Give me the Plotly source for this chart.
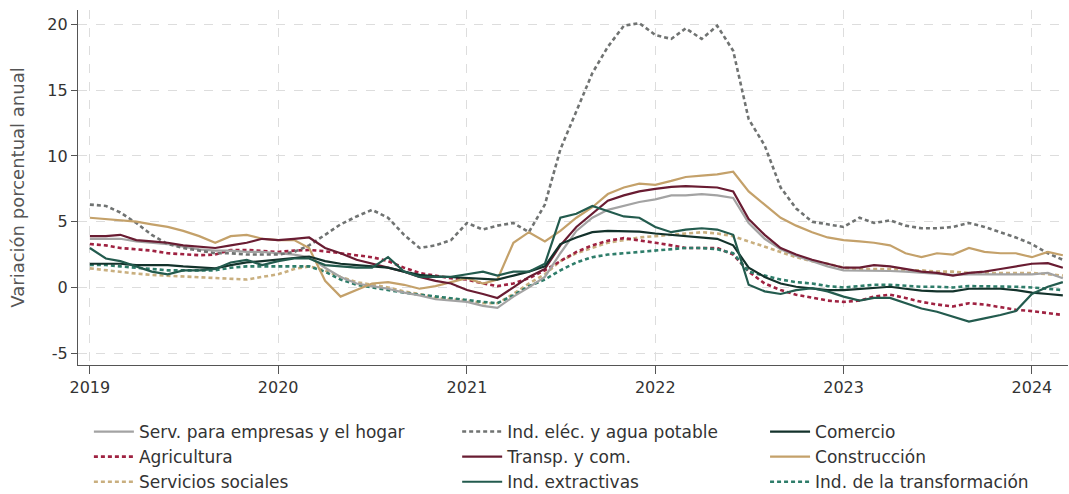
import pandas as pd
import plotly.graph_objects as go

dates = pd.date_range("2019-01-01", periods=63, freq="MS")

serv_empresas = [3.7, 3.7, 3.7, 3.5, 3.4, 3.3, 3.1, 2.9, 2.8, 2.8, 2.7, 2.7,
                 2.6, 2.5, 2.3, 1.5, 0.8, 0.3, 0.1, -0.1, -0.4, -0.6, -0.9, -1.0,
                 -1.1, -1.4, -1.55, -0.7, 0.0, 0.8, 2.6, 4.3, 5.3, 5.9, 6.2, 6.5,
                 6.7, 7.0, 7.0, 7.1, 7.0, 6.8, 4.9, 3.7, 2.9, 2.4, 2.0, 1.6,
                 1.3, 1.3, 1.3, 1.25, 1.2, 1.1, 1.0, 0.95, 1.0, 1.0, 1.0, 1.0,
                 1.0, 1.1, 0.7]
ind_elec = [6.3, 6.2, 5.7, 4.9, 4.0, 3.3, 3.0, 2.8, 2.6, 2.6, 2.5, 2.5,
            2.5, 2.7, 3.2, 4.0, 4.8, 5.4, 5.9, 5.3, 4.0, 3.0, 3.2, 3.6,
            4.9, 4.4, 4.7, 4.9, 4.2, 6.3, 10.5, 13.4, 16.3, 18.3, 19.9, 20.1,
            19.2, 18.9, 19.7, 18.9, 19.9, 18.0, 12.8, 10.8, 7.6, 6.0, 5.0, 4.8,
            4.6, 5.3, 4.9, 5.1, 4.7, 4.5, 4.5, 4.6, 4.9, 4.6, 4.2, 3.8,
            3.3, 2.6, 2.1]
comercio = [1.8, 1.8, 1.8, 1.7, 1.7, 1.7, 1.6, 1.5, 1.45, 1.7, 1.9, 2.0,
            2.1, 2.25, 2.35, 2.0, 1.8, 1.7, 1.6, 1.5, 1.2, 0.95, 0.85, 0.8,
            0.75, 0.65, 0.6, 0.9, 1.2, 1.6, 3.3, 3.8, 4.2, 4.3, 4.3, 4.25,
            4.1, 4.0, 3.95, 3.85, 3.7, 3.2, 1.5, 0.8, 0.3, 0.05, -0.1, -0.2,
            -0.2, -0.1, 0.0, 0.05, -0.1, -0.25, -0.3, -0.3, -0.1, -0.1, -0.1, -0.2,
            -0.4, -0.5, -0.6]
agricultura = [3.3, 3.2, 3.0, 2.9, 2.8, 2.6, 2.5, 2.45, 2.5, 2.85, 2.85, 2.8,
               2.7, 2.8, 2.85, 2.75, 2.6, 2.5, 2.3, 2.0, 1.5, 1.1, 0.9, 0.7,
               0.6, 0.3, 0.1, 0.3, 0.7, 1.3, 2.0, 2.7, 3.2, 3.55, 3.75, 3.6,
               3.4, 3.2, 3.0, 3.0, 3.0, 2.5, 1.2, 0.3, -0.2, -0.55, -0.8, -1.0,
               -1.1, -1.0, -0.7, -0.55, -0.8, -1.1, -1.3, -1.45, -1.2, -1.3, -1.5, -1.7,
               -1.8, -1.95, -2.1]
transp = [3.9, 3.9, 4.0, 3.6, 3.5, 3.4, 3.2, 3.1, 3.0, 3.2, 3.4, 3.7,
          3.6, 3.7, 3.8, 3.0, 2.6, 2.1, 1.8, 1.5, 1.2, 0.8, 0.5, 0.3,
          -0.2, -0.5, -0.8, 0.0, 0.8, 1.4, 3.2, 4.6, 5.6, 6.6, 7.0, 7.3,
          7.5, 7.65, 7.7, 7.65, 7.6, 7.3, 5.2, 4.0, 3.0, 2.5, 2.1, 1.8,
          1.5, 1.5, 1.7, 1.6, 1.4, 1.2, 1.1, 0.9, 1.1, 1.2, 1.4, 1.6,
          1.8, 1.85, 1.5]
construccion = [5.3, 5.2, 5.1, 5.0, 4.8, 4.6, 4.3, 3.9, 3.4, 3.9, 4.0, 3.7,
                3.6, 3.6, 3.0, 0.5, -0.7, -0.2, 0.3, 0.4, 0.2, -0.1, 0.1, 0.4,
                0.7, 0.3, 0.6, 3.4, 4.2, 3.5, 4.3, 5.3, 6.1, 7.1, 7.6, 7.9,
                7.8, 8.1, 8.4, 8.5, 8.6, 8.8, 7.3, 6.3, 5.3, 4.7, 4.2, 3.8,
                3.6, 3.5, 3.4, 3.2, 2.6, 2.3, 2.6, 2.5, 3.0, 2.7, 2.6, 2.6,
                2.3, 2.7, 2.45]
serv_sociales = [1.45, 1.3, 1.2, 1.05, 0.95, 0.9, 0.8, 0.75, 0.7, 0.65, 0.6, 0.8,
                 1.0, 1.4, 1.6, 1.3, 0.8, 0.4, 0.2, 0.0, -0.3, -0.5, -0.8, -0.9,
                 -1.0, -1.2, -1.2, -0.5, 0.3, 1.0, 2.0, 2.6, 3.0, 3.4, 3.6, 3.8,
                 3.9, 4.0, 4.1, 4.2, 4.1, 3.9, 3.5, 3.1, 2.7, 2.3, 2.0, 1.8,
                 1.5, 1.4, 1.4, 1.4, 1.3, 1.3, 1.2, 1.2, 1.1, 1.1, 1.1, 1.1,
                 1.1, 1.0, 0.9]
extractivas = [3.0, 2.2, 2.0, 1.6, 1.2, 1.0, 1.3, 1.3, 1.4, 1.9, 2.1, 1.7,
               2.0, 2.2, 2.2, 1.7, 1.6, 1.5, 1.5, 2.3, 1.2, 0.8, 0.8, 0.8,
               1.0, 1.2, 0.9, 1.2, 1.2, 1.8, 5.3, 5.6, 6.2, 5.8, 5.4, 5.3,
               4.6, 4.2, 4.4, 4.5, 4.4, 4.0, 0.2, -0.3, -0.5, -0.2, -0.05, -0.3,
               -0.7, -1.0, -0.8, -0.8, -1.2, -1.6, -1.85, -2.2, -2.6, -2.35, -2.1, -1.8,
               -0.5, 0.05, 0.4]
transformacion = [1.7, 1.7, 1.6, 1.5, 1.4, 1.3, 1.3, 1.3, 1.3, 1.5, 1.6, 1.6,
                  1.6, 1.6, 1.6, 1.2, 0.6, 0.2, 0.0, -0.2, -0.4, -0.55, -0.7, -0.85,
                  -0.95, -1.1, -1.2, -0.6, 0.1, 0.6, 1.3, 1.9, 2.3, 2.5, 2.6, 2.7,
                  2.8, 2.9, 3.0, 3.0, 2.9, 2.6, 1.2, 0.9, 0.6, 0.4, 0.3, 0.1,
                  0.0, 0.1, 0.2, 0.2, 0.1, 0.05, 0.05, 0.0, 0.1, 0.1, 0.1, 0.05,
                  0.0, -0.1, -0.2]

y_ticks = [-5, 0, 5, 10, 15, 20]
y_tick_labels = ["-5", "0", "5", "10", "15", "20"]
x_tick_labels = ["2019", "2020", "2021", "2022", "2023", "2024"]

# (name, values, color, dash, legend column)
series = [
    ("Serv. para empresas y el hogar", serv_empresas, "#A3A3A3", "solid", "legend"),
    ("Agricultura", agricultura, "#9F2241", "4px,3px", "legend"),
    ("Servicios sociales", serv_sociales, "#C9AF7F", "4px,3px", "legend"),
    ("Ind. eléc. y agua potable", ind_elec, "#707372", "4px,3px", "legend2"),
    ("Transp. y com.", transp, "#691C32", "solid", "legend2"),
    ("Ind. extractivas", extractivas, "#235B4E", "solid", "legend2"),
    ("Comercio", comercio, "#13322B", "solid", "legend3"),
    ("Construcción", construccion, "#C4A16A", "solid", "legend3"),
    ("Ind. de la transformación", transformacion, "#2E7D6A", "4px,3px", "legend3"),
]

draw_order = ["Servicios sociales", "Agricultura", "Ind. de la transformación",
              "Serv. para empresas y el hogar", "Ind. eléc. y agua potable",
              "Construcción", "Transp. y com.", "Comercio", "Ind. extractivas"]

fig = go.Figure()
lookup = {s[0]: (i, s) for i, s in enumerate(series)}
for nm in draw_order:
    rank, (name, vals, color, dash, leg) = lookup[nm]
    fig.add_trace(go.Scatter(
        x=dates, y=vals, name=name, mode="lines",
        line=dict(color=color, width=2.2 if dash == "solid" else 2.6, dash=dash),
        legend=leg, legendrank=100 + rank,
    ))

font_family = "DejaVu Sans, sans-serif"
leg_common = dict(orientation="v", yanchor="top", xanchor="left",
                  font=dict(family=font_family, size=17, color="#333333"),
                  bgcolor="rgba(0,0,0,0)", borderwidth=0, traceorder="normal",
                  itemwidth=40)

fig.update_layout(
    width=1069, height=494,
    margin=dict(l=78, r=1, t=10, b=129, autoexpand=False),
    plot_bgcolor="white", paper_bgcolor="white",
    font=dict(family=font_family, size=16, color="#333333"),
    showlegend=True,
    legend=dict(x=0.011, y=-0.138, **leg_common),
    legend2=dict(x=0.383, y=-0.138, **leg_common),
    legend3=dict(x=0.694, y=-0.138, **leg_common),
    xaxis=dict(
        range=["2018-12-09", "2024-03-11"],
        tickvals=[pd.Timestamp(f"{t}-01-01") for t in x_tick_labels],
        ticktext=x_tick_labels,
        showgrid=True, gridcolor="#DDDDDD", griddash="dash", gridwidth=1,
        showline=True, linecolor="#555555", linewidth=1.2,
        ticks="outside", ticklen=8, tickcolor="#555555",
        tickfont=dict(size=16, color="#333333"),
        zeroline=False,
    ),
    yaxis=dict(
        range=[-5.9, 21.1],
        tickvals=y_ticks, ticktext=y_tick_labels,
        showgrid=True, gridcolor="#DDDDDD", griddash="dash", gridwidth=1,
        showline=True, linecolor="#555555", linewidth=1.2,
        ticks="outside", ticklen=6, tickcolor="#555555",
        tickfont=dict(size=16, color="#333333"),
        zeroline=False,
        title=dict(text="Variación porcentual anual", font=dict(size=18, color="#555555"),
                   standoff=18),
    ),
)

fig.write_html("out.html", config={"displayModeBar": False},
               post_script="document.body.style.margin='0';")
